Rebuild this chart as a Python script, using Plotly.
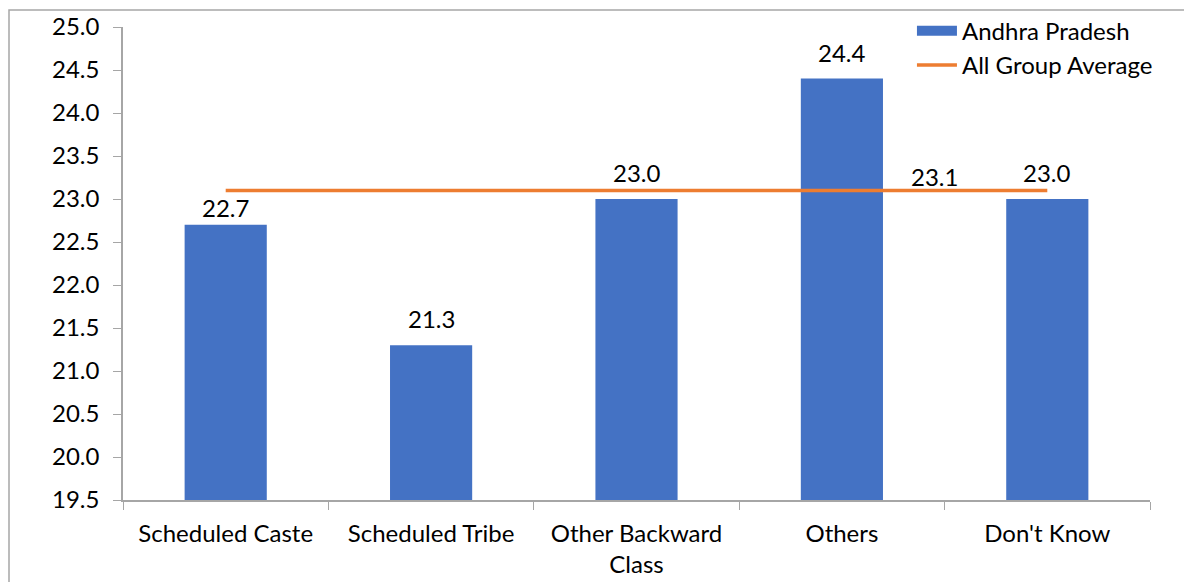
import plotly.graph_objects as go

categories = ["Scheduled Caste", "Scheduled Tribe", "Other Backward<br>Class", "Others", "Don't Know"]
ap_values = [22.7, 21.3, 23.0, 24.4, 23.0]
avg_values = [23.1, 23.1, 23.1, 23.1, 23.1]
avg_label = "23.1"
y_ticks = [19.5, 20.0, 20.5, 21.0, 21.5, 22.0, 22.5, 23.0, 23.5, 24.0, 24.5, 25.0]

FONT = "Lato"
FS = 24
label_shift = [17, 27, 27, 26, 27]

fig = go.Figure()
fig.add_trace(go.Bar(
    x=categories, y=ap_values, name="Andhra Pradesh",
    marker=dict(color="#4472C4", line=dict(width=0)),
    showlegend=False,
))
# legend entry for bars (wide rectangle look)
fig.add_trace(go.Scatter(
    x=[categories[0]], y=[None], name="Andhra Pradesh", mode="lines",
    line=dict(color="#4472C4", width=14), showlegend=True, hoverinfo="skip",
))
fig.add_trace(go.Scatter(
    x=categories, y=avg_values, name="All Group Average", mode="lines",
    line=dict(color="#ED7D31", width=3.5),
))
for c, v, s in zip(categories, ap_values, label_shift):
    fig.add_annotation(x=c, y=v, text=f"{v:.1f}", showarrow=False, yshift=s,
                       font=dict(size=FS, color="#000000", family=FONT))
fig.add_annotation(x=3.45, y=avg_values[3], text=avg_label, showarrow=False,
                   yshift=14, font=dict(size=FS, color="#000000", family=FONT))

# outer border (left and top)
fig.add_shape(type="path", xref="paper", yref="paper",
              path="M -0.111 -0.3 L -0.111 1.036 L 1.2 1.036",
              line=dict(color="#A6A6A6", width=1.5))

fig.update_layout(
    width=1184, height=582,
    margin=dict(l=123, r=34, t=27, b=82, autoexpand=False),
    plot_bgcolor="white", paper_bgcolor="white",
    font=dict(family=FONT, size=FS, color="#000000"),
    bargap=0.6,
    showlegend=True,
    legend=dict(xref="container", yref="container", x=0.978, y=0.985,
                xanchor="right", yanchor="top",
                bgcolor="rgba(0,0,0,0)", font=dict(size=FS, family=FONT),
                tracegroupgap=0, itemwidth=40),
)
fig.update_xaxes(
    showline=True, linecolor="#A6A6A6", linewidth=1.5,
    ticks="outside", tickson="boundaries", ticklen=8, tickcolor="#A6A6A6",
    showgrid=False, tickfont=dict(size=FS, family=FONT),
    ticklabelstandoff=11, automargin=False,
)
fig.update_yaxes(
    range=[19.5, 25.0], tickvals=y_ticks, tickformat=".1f",
    showline=True, linecolor="#A6A6A6", linewidth=1.5,
    ticks="outside", ticklen=8, tickcolor="#A6A6A6",
    showgrid=False, zeroline=False, tickfont=dict(size=FS, family=FONT),
    ticklabelstandoff=9, automargin=False,
)
fig.write_html("out.html")
